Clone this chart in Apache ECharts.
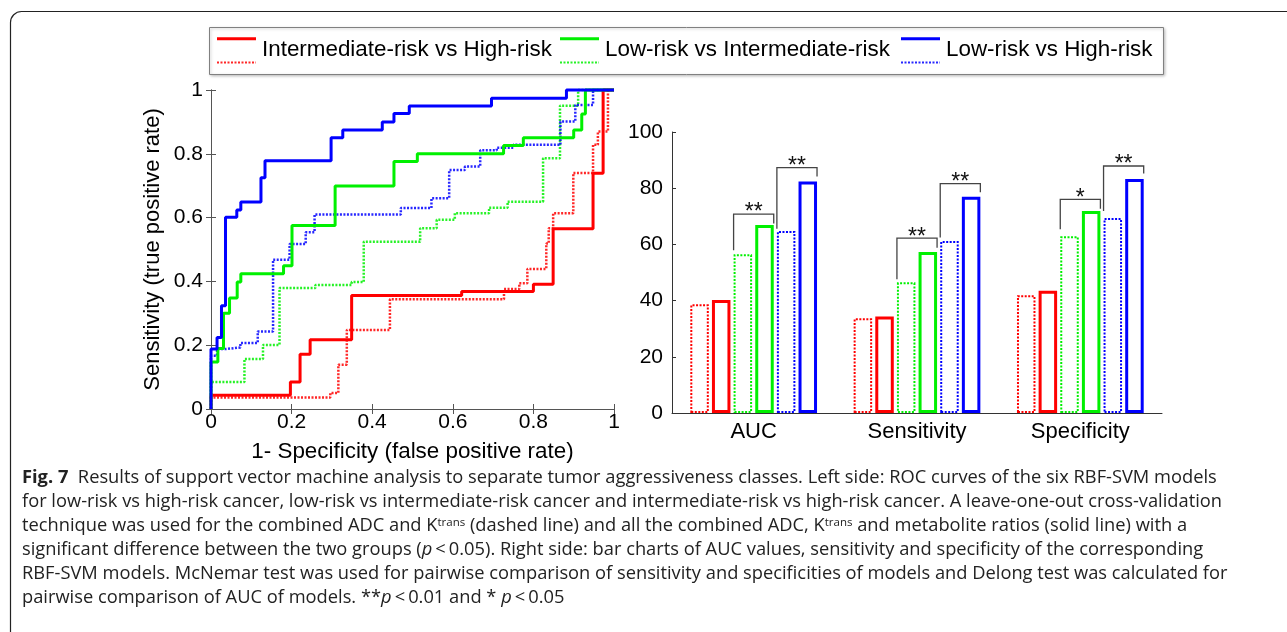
<!DOCTYPE html>
<html>
<head>
<meta charset="utf-8">
<title>Fig. 7</title>
<script src="https://cdn.jsdelivr.net/npm/echarts@6/dist/echarts.min.js"></script>
<style>
  html, body { margin: 0; padding: 0; background: #fff; }
  #chart { width: 1287px; height: 632px; }
</style>
</head>
<body>
<div id="chart"></div>
<script>
// models (legend order) and their colours
const modelNames = ['Intermediate-risk vs High-risk', 'Low-risk vs Intermediate-risk', 'Low-risk vs High-risk'];
const modelColors = ['#ff0000', '#00f000', '#0000ff'];

// ROC curves [1-specificity, sensitivity]
// "All" = ADC + Ktrans + metabolite ratios (solid), "Kt" = ADC + Ktrans (dashed)
const rocInterHighAll = [[0, 0], [0, 0.043], [0.197, 0.085], [0.221, 0.172], [0.246, 0.217], [0.349, 0.356], [0.622, 0.368], [0.800, 0.391], [0.849, 0.565], [0.948, 0.739], [0.973, 1], [1, 1]];
const rocInterHighKt = [[0, 0], [0, 0.036], [0.296, 0.050], [0.316, 0.139], [0.337, 0.248], [0.444, 0.344], [0.727, 0.376], [0.765, 0.394], [0.785, 0.439], [0.832, 0.519], [0.838, 0.567], [0.849, 0.614], [0.899, 0.740], [0.948, 0.828], [0.960, 0.870], [0.985, 1], [1, 1]];
const rocLowInterAll = [[0, 0], [0, 0.147], [0.017, 0.19], [0.031, 0.30], [0.046, 0.348], [0.065, 0.398], [0.074, 0.424], [0.180, 0.449], [0.201, 0.575], [0.308, 0.699], [0.454, 0.776], [0.512, 0.800], [0.726, 0.826], [0.775, 0.850], [0.900, 0.875], [0.920, 0.925], [0.929, 1], [1, 1]];
const rocLowInterKt = [[0, 0], [0, 0.085], [0.083, 0.157], [0.129, 0.201], [0.170, 0.379], [0.259, 0.389], [0.349, 0.398], [0.379, 0.524], [0.519, 0.567], [0.560, 0.593], [0.605, 0.614], [0.690, 0.631], [0.736, 0.650], [0.824, 0.786], [0.866, 0.951], [0.911, 1], [1, 1]];
const rocLowHighAll = [[0, 0], [0, 0.188], [0.015, 0.224], [0.026, 0.324], [0.036, 0.601], [0.064, 0.624], [0.074, 0.649], [0.124, 0.725], [0.134, 0.778], [0.298, 0.850], [0.327, 0.875], [0.425, 0.900], [0.454, 0.926], [0.492, 0.950], [0.696, 0.974], [0.882, 1], [1, 1]];
const rocLowHighKt = [[0, 0], [0, 0.167], [0.015, 0.188], [0.038, 0.193], [0.073, 0.207], [0.116, 0.243], [0.154, 0.468], [0.195, 0.517], [0.235, 0.554], [0.257, 0.610], [0.471, 0.630], [0.547, 0.661], [0.591, 0.749], [0.630, 0.760], [0.668, 0.811], [0.709, 0.819], [0.750, 0.828], [0.867, 0.901], [0.904, 0.953], [0.948, 1], [1, 1]];

// bar chart: AUC, sensitivity, specificity (%)
const barCategories = ['AUC', 'Sensitivity', 'Specificity'];
const barInterHighKt = [38.7, 33.7, 41.9];
const barInterHighAll = [40.2, 34.3, 43.5];
const barLowInterKt = [56.5, 46.5, 62.9];
const barLowInterAll = [66.9, 57.3, 71.9];
const barLowHighKt = [64.8, 61.2, 69.4];
const barLowHighAll = [82.4, 77.0, 83.3];

// significance brackets: [category, left bar, right bar, left foot, top, right foot]
const brackets = [
  [0, 2, 3, 57.9, 70.8, 67.4],
  [0, 4, 5, 65.6, 87.3, 84.2],
  [1, 2, 3, 47.6, 62.2, 58.8],
  [1, 4, 5, 62.5, 81.6, 78.6],
  [2, 2, 3, 65.4, 76.0, 72.7],
  [2, 4, 5, 71.9, 87.9, 85.2],
];
const bracketLabels = ['**', '**', '**', '**', '*', '**'];

// axis ticks
const rocTickStep = 0.2;
const barTickStep = 20;

const captionLines = [
  '{b|Fig. 7}  Results of support vector machine analysis to separate tumor aggressiveness classes. Left side: ROC curves of the six RBF-SVM models',
  'for low-risk vs high-risk cancer, low-risk vs intermediate-risk cancer and intermediate-risk vs high-risk cancer. A leave-one-out cross-validation',
  'technique was used for the combined ADC and K{s|trans} (dashed line) and all the combined ADC, K{s|trans} and metabolite ratios (solid line) with a',
  'significant difference between the two groups ({i|p}\u2009<\u20090.05). Right side: bar charts of AUC values, sensitivity and specificity of the corresponding',
  'RBF-SVM models. McNemar test was used for pairwise comparison of sensitivity and specificities of models and Delong test was calculated for',
  'pairwise comparison of AUC of models. **{i|p}\u2009<\u20090.01 and * {i|p}\u2009<\u20090.05',
];

const FONT = 'Liberation Sans, Arial, Helvetica, sans-serif';
const CAPTION_FONT = 'Open Sans, Noto Sans, sans-serif';
const CAPTION_SIZE = 18.3;
const BAR_WIDTH = 18.5;
const BAR_GAP = 0.17;
const DOT = [2, 1.5];

const rocSeries = [
  { data: rocInterHighKt, model: 0, dashed: true },
  { data: rocLowInterKt, model: 1, dashed: true },
  { data: rocLowHighKt, model: 2, dashed: true },
  { data: rocInterHighAll, model: 0, dashed: false },
  { data: rocLowInterAll, model: 1, dashed: false },
  { data: rocLowHighAll, model: 2, dashed: false },
];

const barSeries = [
  { data: barInterHighKt, model: 0, dashed: true },
  { data: barInterHighAll, model: 0, dashed: false },
  { data: barLowInterKt, model: 1, dashed: true },
  { data: barLowInterAll, model: 1, dashed: false },
  { data: barLowHighKt, model: 2, dashed: true },
  { data: barLowHighAll, model: 2, dashed: false },
];

const boxAxis = (extra) => Object.assign({
  gridIndex: 0,
  type: 'value',
  min: 0,
  max: 1,
  interval: rocTickStep,
  axisLine: { show: true, lineStyle: { color: '#555', width: 1 } },
  axisTick: { show: true, inside: true, length: 5, lineStyle: { color: '#555' } },
  splitLine: { show: false },
}, extra);

const renderBracket = (params, api) => {
  const cat = api.value(0);
  const n = barSeries.length;
  const gap = BAR_WIDTH * BAR_GAP;
  const groupW = n * BAR_WIDTH + (n - 1) * gap;
  const center = api.coord([cat, 0])[0];
  const start = center - groupW / 2;
  const xl = start + api.value(1) * (BAR_WIDTH + gap);
  const xr = start + api.value(2) * (BAR_WIDTH + gap) + BAR_WIDTH;
  const yl = api.coord([cat, api.value(3)])[1];
  const yt = api.coord([cat, api.value(4)])[1];
  const yr = api.coord([cat, api.value(5)])[1];
  return {
    type: 'group',
    children: [
      {
        type: 'polyline',
        shape: { points: [[xl, yl], [xl, yt], [xr, yt], [xr, yr]] },
        style: { stroke: '#444', lineWidth: 1.3, fill: null },
      },
      {
        type: 'text',
        x: (xl + xr) / 2,
        y: yt - 1,
        style: {
          text: bracketLabels[params.dataIndex],
          align: 'center',
          verticalAlign: 'middle',
          fontFamily: FONT,
          fontSize: 23,
          fill: '#111',
        },
      },
    ],
  };
};

const legendGraphic = () => {
  const sampleX = [217, 560, 901];
  const children = [{
    type: 'rect',
    shape: { x: 209.5, y: 27.5, width: 954, height: 47 },
    style: { fill: '#fff', stroke: '#808080', lineWidth: 1, shadowBlur: 3, shadowOffsetX: 1, shadowOffsetY: 1, shadowColor: 'rgba(0,0,0,0.25)' },
  }];
  modelNames.forEach((name, i) => {
    const x = sampleX[i];
    children.push({
      type: 'line',
      shape: { x1: x, y1: 38.7, x2: x + 39, y2: 38.7 },
      style: { stroke: modelColors[i], lineWidth: 3 },
    });
    children.push({
      type: 'line',
      shape: { x1: x, y1: 62.5, x2: x + 39, y2: 62.5 },
      style: { stroke: modelColors[i], lineWidth: 2, lineDash: DOT, opacity: 0.85 },
    });
    children.push({
      type: 'text',
      x: x + 45,
      y: 50,
      style: { text: name, fontFamily: FONT, fontSize: 22.4, fill: '#000', verticalAlign: 'middle' },
    });
  });
  return { type: 'group', children };
};

const captionGraphic = () => captionLines.map((line, i) => ({
  type: 'text',
  x: 22,
  y: 478 + i * 24,
  style: {
    text: line,
    fontFamily: CAPTION_FONT,
    fontSize: CAPTION_SIZE,
    fill: '#222',
    verticalAlign: 'middle',
    rich: {
      b: { fontFamily: CAPTION_FONT, fontSize: CAPTION_SIZE, fontWeight: 'bold', fill: '#222' },
      i: { fontFamily: CAPTION_FONT, fontSize: CAPTION_SIZE, fontStyle: 'italic', fill: '#222' },
      s: { fontFamily: CAPTION_FONT, fontSize: 11.5, fill: '#222', verticalAlign: 'top' },
    },
  },
}));

const getOptions = () => ({
  animation: false,
  backgroundColor: '#fff',
  textStyle: { fontFamily: FONT },
  grid: [
    { left: 211, top: 90, width: 403, height: 319 },
    { left: 672, top: 132, width: 490, height: 281 },
  ],
  xAxis: [
    boxAxis({
      position: 'bottom',
      name: '1- Specificity (false positive rate)',
      nameLocation: 'middle',
      nameGap: 32,
      nameTextStyle: { fontSize: 22.4, color: '#000', fontFamily: FONT },
      axisLabel: { fontSize: 21, color: '#000', margin: 3, fontFamily: FONT },
    }),
    boxAxis({ position: 'top', axisLabel: { show: false } }),
    {
      gridIndex: 1,
      type: 'category',
      data: barCategories,
      axisLine: { show: true, lineStyle: { color: '#333', width: 1 } },
      axisTick: { show: false },
      axisLabel: { fontSize: 22, color: '#000', margin: 8, fontFamily: FONT },
    },
  ],
  yAxis: [
    boxAxis({
      position: 'left',
      name: 'Sensitivity (true positive rate)',
      nameLocation: 'middle',
      nameRotate: 90,
      nameGap: 47,
      nameTextStyle: { fontSize: 22, color: '#000', fontFamily: FONT },
      axisLabel: { fontSize: 21, color: '#000', margin: 8, fontFamily: FONT },
    }),
    boxAxis({ position: 'right', axisLabel: { show: false } }),
    {
      gridIndex: 1,
      type: 'value',
      min: 0,
      max: 100,
      interval: barTickStep,
      axisLine: { show: true, lineStyle: { color: '#333', width: 1 } },
      axisTick: { show: true, inside: true, length: 4, lineStyle: { color: '#333' } },
      axisLabel: { fontSize: 21, color: '#000', margin: 9, fontFamily: FONT },
      splitLine: { show: false },
    },
  ],
  series: [
    ...rocSeries.map((s) => ({
      type: 'line',
      name: modelNames[s.model],
      xAxisIndex: 0,
      yAxisIndex: 0,
      data: s.data,
      step: 'end',
      symbol: 'none',
      clip: false,
      silent: true,
      z: s.dashed ? 2 : 3,
      lineStyle: {
        color: modelColors[s.model],
        width: s.dashed ? 2.5 : 3,
        type: s.dashed ? DOT : 'solid',
        opacity: s.dashed ? 0.85 : 1,
      },
    })),
    ...barSeries.map((s) => ({
      type: 'bar',
      name: modelNames[s.model],
      xAxisIndex: 2,
      yAxisIndex: 2,
      data: s.data,
      barWidth: BAR_WIDTH,
      barGap: (BAR_GAP * 100) + '%',
      silent: true,
      itemStyle: {
        color: '#fff',
        borderColor: modelColors[s.model],
        borderWidth: s.dashed ? 2 : 3,
        borderType: s.dashed ? DOT : 'solid',
        opacity: 1,
      },
    })),
    {
      type: 'custom',
      xAxisIndex: 2,
      yAxisIndex: 2,
      data: brackets,
      encode: { x: 0, y: [3, 4, 5] },
      renderItem: renderBracket,
      silent: true,
      z: 5,
    },
  ],
  graphic: [
    {
      type: 'rect',
      shape: { x: 10.5, y: 11.5, width: 1320, height: 660, r: 11 },
      style: { fill: null, stroke: '#222', lineWidth: 1.2 },
      z: -1,
    },
    legendGraphic(),
    ...captionGraphic(),
  ],
});

const chartInstance = echarts.init(document.getElementById('chart'), null, { renderer: 'canvas' });
chartInstance.setOption(getOptions());
window.addEventListener('resize', () => chartInstance.resize());
</script>
</body>
</html>
